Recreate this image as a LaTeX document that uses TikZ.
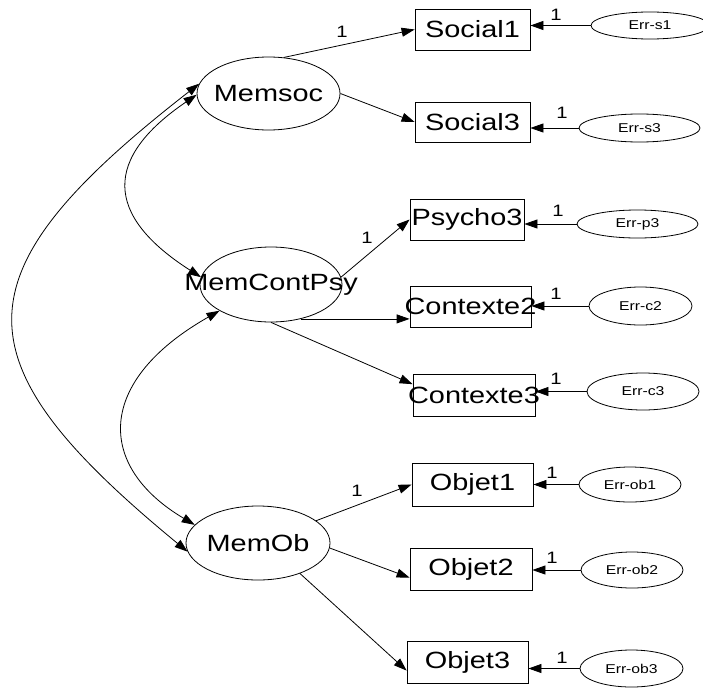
\documentclass[tikz,border=0pt]{standalone}
\usepackage{fontspec}
\newfontfamily\diagfont[FakeStretch=1.23]{Liberation Sans}
\usetikzlibrary{arrows.meta,shapes.geometric}

\tikzset{
  every picture/.style={line width=0.8pt},
  latent/.style={draw, ellipse, inner sep=0pt, font=\diagfont\fontsize{23.5}{26}\selectfont},
  observed/.style={draw, rectangle, inner sep=0pt, font=\diagfont\fontsize{23.5}{26}\selectfont},
  errnode/.style={draw, ellipse, inner sep=0pt, font=\diagfont\fontsize{12.8}{14}\selectfont},
  one/.style={inner sep=0pt, font=\diagfont\fontsize{16.5}{18}\selectfont},
  path/.style={-{Triangle[length=13pt,width=9pt]}},
  cov/.style={{Triangle[length=13pt,width=9pt]}-{Triangle[length=13pt,width=9pt]}},
}
% node with fixed size whose text may overflow the outline
\newcommand{\fixtxt}[1]{\makebox[0pt]{#1}}

\begin{document}
\begin{tikzpicture}[x=1pt,y=-1pt]
\useasboundingbox (0,0) rectangle (703,688);

% latent variables
\node[latent, minimum width=143pt, minimum height=73pt] (memsoc) at (268.5,93.5) {\fixtxt{Memsoc}};
\node[latent, minimum width=142pt, minimum height=75pt] (memcont) at (271,284.5) {\fixtxt{\raisebox{-3pt}{MemContPsy}}};
\node[latent, minimum width=144pt, minimum height=74pt] (memob) at (258,543) {\fixtxt{MemOb}};

% observed indicators
\node[observed, minimum width=115pt, minimum height=41pt] (social1) at (472.5,29.5) {\fixtxt{Social1}};
\node[observed, minimum width=115pt, minimum height=40pt] (social3) at (472.5,122) {\fixtxt{Social3}};
\node[observed, minimum width=114pt, minimum height=41pt] (psycho3) at (467,219.5) {\fixtxt{Psycho3}};
\node[observed, minimum width=121pt, minimum height=41pt] (contexte2) at (470.5,306.5) {\fixtxt{Contexte2}};
\node[observed, minimum width=122pt, minimum height=42pt] (contexte3) at (474,395) {\fixtxt{Contexte3}};
\node[observed, minimum width=121pt, minimum height=43pt] (objet1) at (472.5,484.5) {\fixtxt{Objet1}};
\node[observed, minimum width=122pt, minimum height=42pt] (objet2) at (471,569) {\fixtxt{Objet2}};
\node[observed, minimum width=121pt, minimum height=42pt] (objet3) at (467.5,662) {\fixtxt{Objet3}};

% error terms
\node[errnode, minimum width=118pt, minimum height=27pt] (errs1) at (650,25.5) {Err-s1};
\node[errnode, minimum width=121pt, minimum height=28pt] (errs3) at (639.5,128) {Err-s3};
\node[errnode, minimum width=121pt, minimum height=28pt] (errp3) at (637.5,224) {Err-p3};
\node[errnode, minimum width=103pt, minimum height=38pt] (errc2) at (640.5,306) {Err-c2};
\node[errnode, minimum width=112pt, minimum height=37pt] (errc3) at (643,391.5) {Err-c3};
\node[errnode, minimum width=102pt, minimum height=35pt] (errob1) at (630,484.5) {Err-ob1};
\node[errnode, minimum width=102pt, minimum height=36pt] (errob2) at (632,570) {Err-ob2};
\node[errnode, minimum width=103pt, minimum height=37pt] (errob3) at (631.5,668.5) {Err-ob3};

% factor loadings
\draw[path] (memsoc.67) -- (social1.west);
\draw[path] (memsoc.east) -- (social3.west);
\draw[path] (memcont.6) -- (psycho3.west);
\draw[path] (memcont.-49) -- (memcont.-49 -| contexte2.west);
\draw[path] (memcont.south) -- (contexte3.170);
\draw[path] (memob.21) -- (objet1.west);
\draw[path] (memob.-4) -- (objet2.188);
\draw[path] (memob.-36) -- (objet3.188);

% error paths
\draw[path] (errs1.west) -- (errs1.west -| social1.east);
\draw[path] (errs3.west) -- (errs3.west -| social3.east);
\draw[path] (errp3.west) -- (errp3.west -| psycho3.east);
\draw[path] (errc2.west) -- (errc2.west -| contexte2.east);
\draw[path] (errc3.west) -- (errc3.west -| contexte3.east);
\draw[path] (errob1.west) -- (errob1.west -| objet1.east);
\draw[path] (errob2.west) -- (errob2.west -| objet2.east);
\draw[path] (errob3.west) -- (errob3.west -| objet3.east);

% covariances
\draw[cov] (memsoc.181) .. controls (103.7,158) and (103.7,215) .. (memcont.174);
\draw[cov] (memcont.207) .. controls (95.7,381) and (95.7,466) .. (memob.164);
\draw[cov] (memsoc.172) .. controls (-45.5,274) and (-45.5,360) .. (memob.187);

% fixed parameters
\node[one] (f1) at (342,32) {1};
\node[one] (f2) at (367,238) {1};
\node[one] (f3) at (357,491) {1};
\node[one] (e1) at (556,15) {1};
\node[one] (e2) at (562,113) {1};
\node[one] (e3) at (558,211) {1};
\node[one] (e4) at (556,294) {1};
\node[one] (e5) at (556,379) {1};
\node[one] (e6) at (552,473) {1};
\node[one] (e7) at (552,558) {1};
\node[one] (e8) at (562,658) {1};
\end{tikzpicture}
\end{document}
